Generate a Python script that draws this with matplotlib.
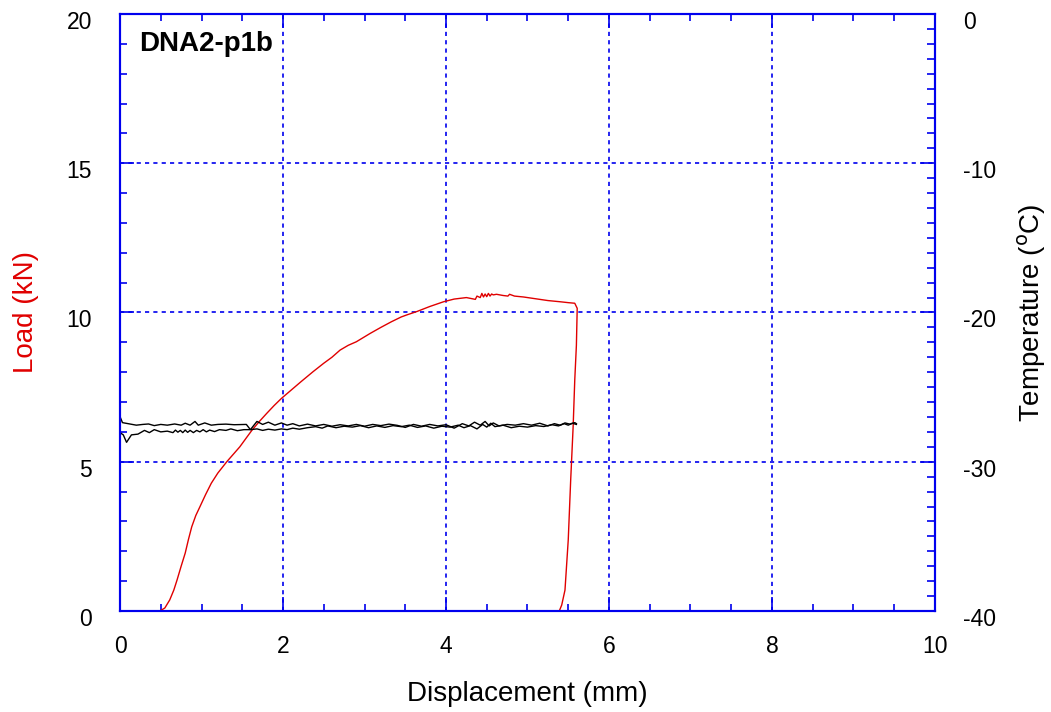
"""
    荷重-変位曲線と温度の同時プロット (DNA2-p1b)
"""

import matplotlib
matplotlib.use("Agg")
import matplotlib.pyplot as plt
import matplotlib.transforms as mtransforms
from matplotlib.ticker import MultipleLocator

plt.rcParams["font.family"] = ["Liberation Sans", "DejaVu Sans"]
plt.rcParams["axes.unicode_minus"] = False

specimen = "DNA2-p1b"

# 荷重 (kN) vs 変位 (mm)
load_disp = [0.49, 0.55, 0.61, 0.66, 0.70, 0.75, 0.80, 0.84, 0.88, 0.93,
             0.98, 1.05, 1.12, 1.20, 1.31, 1.39, 1.47, 1.55, 1.62, 1.71,
             1.80, 1.89, 1.98, 2.10, 2.22, 2.37, 2.50, 2.60, 2.70, 2.80,
             2.90, 3.07, 3.20, 3.33, 3.45, 3.52, 3.64, 3.80, 3.97, 4.10,
             4.25, 4.36, 4.38, 4.42, 4.44, 4.46, 4.48, 4.50, 4.52, 4.54,
             4.56, 4.58, 4.62, 4.70, 4.76, 4.78, 4.84, 4.95, 5.05, 5.15,
             5.25, 5.40, 5.50, 5.58, 5.61, 5.60, 5.58, 5.56, 5.53, 5.50,
             5.46, 5.42, 5.39]
load_kn = [0.00, 0.10, 0.37, 0.70, 1.04, 1.50, 1.94, 2.40, 2.82, 3.20,
           3.49, 3.90, 4.28, 4.62, 5.00, 5.25, 5.50, 5.80, 6.06, 6.35,
           6.62, 6.88, 7.12, 7.40, 7.68, 8.02, 8.30, 8.50, 8.74, 8.90,
           9.02, 9.30, 9.50, 9.69, 9.85, 9.92, 10.03, 10.20, 10.36, 10.45,
           10.50, 10.44, 10.55, 10.50, 10.64, 10.52, 10.62, 10.53, 10.64, 10.55,
           10.62, 10.59, 10.61, 10.57, 10.55, 10.61, 10.55, 10.52, 10.48, 10.44,
           10.40, 10.36, 10.33, 10.31, 10.14, 8.90, 7.74, 6.17, 4.39, 2.38,
           0.70, 0.20, 0.00]

# 温度 (°C) 熱電対 1
temp1_disp = [0.00, 0.03, 0.10, 0.20, 0.28, 0.35, 0.42, 0.50, 0.58, 0.67,
              0.75, 0.80, 0.86, 0.92, 0.96, 1.04, 1.12, 1.20, 1.30, 1.40,
              1.55, 1.60, 1.68, 1.75, 1.82, 1.90, 1.98, 2.05, 2.12, 2.20,
              2.30, 2.40, 2.48, 2.55, 2.65, 2.75, 2.85, 2.95, 3.05, 3.15,
              3.25, 3.35, 3.45, 3.55, 3.65, 3.75, 3.85, 3.95, 4.05, 4.15,
              4.22, 4.30, 4.38, 4.45, 4.50, 4.55, 4.60, 4.70, 4.80, 4.90,
              5.00, 5.10, 5.20, 5.30, 5.38, 5.45, 5.50, 5.55, 5.60]
temp1_c = [-26.98, -27.38, -27.45, -27.55, -27.50, -27.47, -27.58, -27.50, -27.55, -27.47,
           -27.55, -27.42, -27.55, -27.30, -27.55, -27.40, -27.55, -27.50, -27.48, -27.52,
           -27.50, -27.85, -27.80, -27.90, -27.82, -27.88, -27.80, -27.85, -27.75, -27.82,
           -27.72, -27.65, -27.75, -27.60, -27.72, -27.62, -27.68, -27.58, -27.72, -27.60,
           -27.70, -27.58, -27.65, -27.55, -27.70, -27.60, -27.75, -27.62, -27.68, -27.55,
           -27.72, -27.58, -27.80, -27.50, -27.68, -27.42, -27.65, -27.55, -27.72, -27.62,
           -27.68, -27.58, -27.64, -27.52, -27.60, -27.45, -27.55, -27.42, -27.50]

# 温度 (°C) 熱電対 2
temp2_disp = [0.00, 0.04, 0.08, 0.14, 0.22, 0.30, 0.36, 0.42, 0.50, 0.58,
              0.65, 0.68, 0.71, 0.74, 0.77, 0.80, 0.83, 0.86, 0.90, 0.94,
              0.98, 1.02, 1.06, 1.10, 1.16, 1.22, 1.30, 1.36, 1.44, 1.52,
              1.60, 1.68, 1.75, 1.82, 1.90, 1.98, 2.05, 2.12, 2.20, 2.30,
              2.40, 2.50, 2.60, 2.70, 2.80, 2.90, 3.00, 3.10, 3.20, 3.30,
              3.40, 3.50, 3.60, 3.70, 3.80, 3.90, 4.00, 4.10, 4.20, 4.28,
              4.35, 4.42, 4.48, 4.53, 4.58, 4.65, 4.75, 4.85, 4.95, 5.05,
              5.15, 5.25, 5.33, 5.40, 5.46, 5.52, 5.58, 5.60]
temp2_c = [-28.05, -28.20, -28.70, -28.20, -28.15, -27.90, -28.05, -27.85, -28.00, -27.95,
           -28.05, -27.88, -28.02, -27.90, -28.05, -27.88, -28.03, -27.90, -28.05, -27.90,
           -28.00, -27.85, -28.00, -27.88, -27.98, -27.85, -27.90, -27.80, -27.92, -27.85,
           -27.85, -27.30, -27.50, -27.35, -27.55, -27.40, -27.55, -27.45, -27.60, -27.48,
           -27.60, -27.50, -27.62, -27.52, -27.60, -27.50, -27.62, -27.50, -27.58, -27.48,
           -27.56, -27.70, -27.50, -27.62, -27.50, -27.60, -27.52, -27.75, -27.45, -27.60,
           -27.35, -27.55, -27.30, -27.60, -27.40, -27.60, -27.50, -27.55, -27.45, -27.55,
           -27.42, -27.60, -27.45, -27.55, -27.40, -27.48, -27.38, -27.45]

blue = "#0000ee"
red = "#e00000"

fig = plt.figure(figsize=(10.51, 7.12), dpi=100)
ax = fig.add_axes([0.1142, 0.1419, 0.7754, 0.8384])
ax2 = ax.twinx()

ax.plot(load_disp, load_kn, color=red, linewidth=1.0, zorder=3)
ax2.plot(temp1_disp, temp1_c, color="black", linewidth=1.0)
ax2.plot(temp2_disp, temp2_c, color="black", linewidth=1.0)

ax.set_xlim(0, 10)
ax.set_ylim(0, 20)
ax2.set_ylim(-40, 0)

ax.xaxis.set_major_locator(MultipleLocator(2))
ax.xaxis.set_minor_locator(MultipleLocator(0.5))
ax.yaxis.set_major_locator(MultipleLocator(5))
ax.yaxis.set_minor_locator(MultipleLocator(1))
ax2.yaxis.set_major_locator(MultipleLocator(10))
ax2.yaxis.set_minor_locator(MultipleLocator(1))

ax.grid(True, which="major", color=blue, linestyle=(0, (2.5, 2.5)), linewidth=1.2)

for spine in list(ax.spines.values()) + list(ax2.spines.values()):
    spine.set_color(blue)
    spine.set_linewidth(1.5)

ax.tick_params(axis="x", which="both", direction="in", top=True, color=blue,
               labelsize=16.5, pad=17)
ax.tick_params(axis="x", which="major", length=10, width=1.2)
ax.tick_params(axis="x", which="minor", length=5, width=1.2)
ax.tick_params(axis="y", which="both", direction="in", right=False, color=blue,
               labelsize=16.5, pad=20)
ax.tick_params(axis="y", which="major", length=10, width=1.2)
ax.tick_params(axis="y", which="minor", length=5, width=1.2)
ax2.tick_params(axis="y", which="both", direction="in", color=blue,
                labelsize=16.5, pad=20)
ax2.tick_params(axis="y", which="major", length=10, width=1.2)
ax2.tick_params(axis="y", which="minor", length=6, width=1.2)

# y 目盛ラベルは目盛位置より少し下に置く
shift = mtransforms.ScaledTranslation(0, 0.03, fig.dpi_scale_trans)
for label in ax.get_yticklabels() + ax2.get_yticklabels():
    label.set_va("top")
    label.set_transform(label.get_transform() + shift)

ax.set_xlabel("Displacement (mm)", fontsize=20, labelpad=17)
ax.set_ylabel("Load (kN)", fontsize=20, color=red, labelpad=20)
ax2.set_ylabel("Temperature ($^{\\rm o}$C)", fontsize=20, labelpad=14)

ax.text(0.023, 0.95, specimen, transform=ax.transAxes, fontsize=20,
        fontweight="bold", va="center", ha="left")

plt.savefig("out.png", dpi=100)
